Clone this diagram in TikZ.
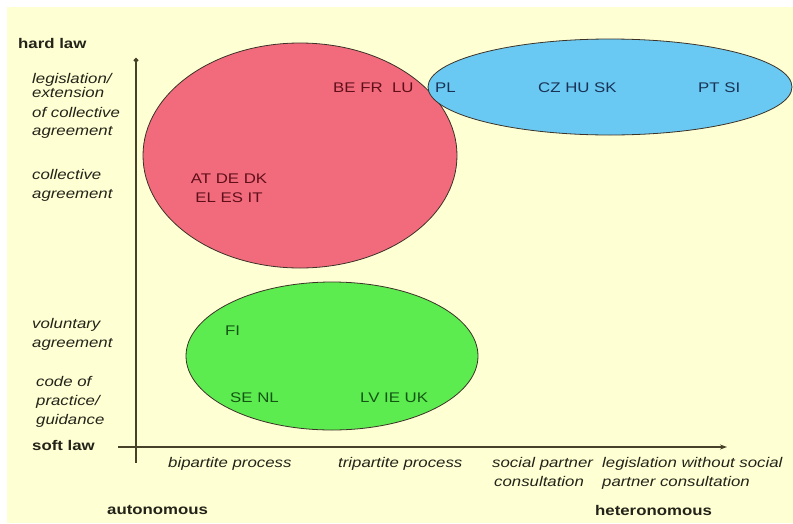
\documentclass[tikz,border=0pt]{standalone}
\usepackage{fontspec}
\setmainfont[FakeStretch=1.2]{Liberation Sans}
\usetikzlibrary{shapes.geometric,arrows.meta}

\definecolor{paper}{RGB}{255,255,212}
\definecolor{redfill}{RGB}{242,107,125}
\definecolor{bluefill}{RGB}{106,201,243}
\definecolor{greenfill}{RGB}{92,236,80}
\definecolor{redtext}{RGB}{95,15,25}
\definecolor{bluetext}{RGB}{25,50,85}
\definecolor{greentext}{RGB}{20,85,20}
\definecolor{ink}{RGB}{35,35,25}
\definecolor{axisline}{RGB}{70,65,40}
\definecolor{rim}{RGB}{60,50,40}

\tikzset{
  group/.style={ellipse, draw=rim, line width=0.8pt, inner sep=0pt, outer sep=0pt},
  basefont/.style={font=\fontsize{14}{19}\selectfont, inner sep=0pt, text=ink},
  scale label/.style={basefont, font=\fontsize{14}{19}\selectfont\itshape, align=left, anchor=base west},
  pole/.style={basefont, font=\fontsize{14}{19}\selectfont\bfseries, anchor=base west},
  process/.style={basefont, font=\fontsize{14}{19}\selectfont\itshape, align=left, anchor=base west},
  country/.style={basefont, anchor=base west},
  axis/.style={draw=axisline, line width=1.8pt},
}

\begin{document}
\begin{tikzpicture}[x=1pt, y=-1pt]
  \useasboundingbox (0,0) rectangle (793,523);
  \fill[white] (0,0) rectangle (793,523);
  \fill[paper] (7,7) rectangle (793,523);

  % country groups
  \node[group, fill=redfill, minimum width=314pt, minimum height=225pt] (hardgroup) at (300,155.5) {};
  \node[group, fill=bluefill, minimum width=364pt, minimum height=96pt] (statutory) at (610,87) {};
  \node[group, fill=greenfill, minimum width=292pt, minimum height=148pt] (softgroup) at (332,356) {};

  % country codes (multi-line nodes sit on the baseline of their last line)
  \node[country, text=redtext] (befrlu) at (333,92) {BE FR~~LU};
  \node[country, text=redtext, align=center, anchor=base] (atde) at (229,202) {AT DE DK\\EL ES IT};
  \node[country, text=bluetext] (pl) at (435,92) {PL};
  \node[country, text=bluetext] (czhusk) at (538,92) {CZ HU SK};
  \node[country, text=bluetext] (ptsi) at (698,92) {PT SI};
  \node[country, text=greentext] (fi) at (225,335) {FI};
  \node[country, text=greentext] (senl) at (230,402) {SE NL};
  \node[country, text=greentext] (lvieuk) at (360,402) {LV IE UK};

  % axes
  \coordinate (ytop) at (136,58);
  \coordinate (ybot) at (136,463);
  \coordinate (xleft) at (118,447);
  \coordinate (xright) at (727,447);
  \draw[axis, {Circle[length=4.5pt]}-] (ytop) -- (ybot);
  \draw[axis, -{Stealth[length=7pt, width=5pt]}] (xleft) -- (xright);

  % vertical scale
  \node[pole] (hard) at (18,48) {hard law};
  \node[scale label, font=\fontsize{14}{14}\selectfont\itshape] (legis) at (32,97) {legislation/\\extension};
  \node[scale label, font=\fontsize{14}{18}\selectfont\itshape] (ofcoll) at (32,135) {of collective\\agreement};
  \node[scale label] (coll) at (32,198) {collective\\agreement};
  \node[scale label] (vol) at (32,347) {voluntary\\agreement};
  \node[scale label] (code) at (36,424) {code of\\practice/\\guidance};
  \node[pole] (soft) at (32,450) {soft law};

  % horizontal scale
  \node[process] (bi) at (168,467) {bipartite process};
  \node[process] (tri) at (338,467) {tripartite process};
  \node[process] (consult) at (492,486) {social partner\\\hspace*{2pt}consultation};
  \node[process] (nolegis) at (602,486) {legislation without social\\partner consultation};
  \node[pole] (auto) at (107,514) {autonomous};
  \node[pole] (hetero) at (595,515) {heteronomous};
\end{tikzpicture}
\end{document}
